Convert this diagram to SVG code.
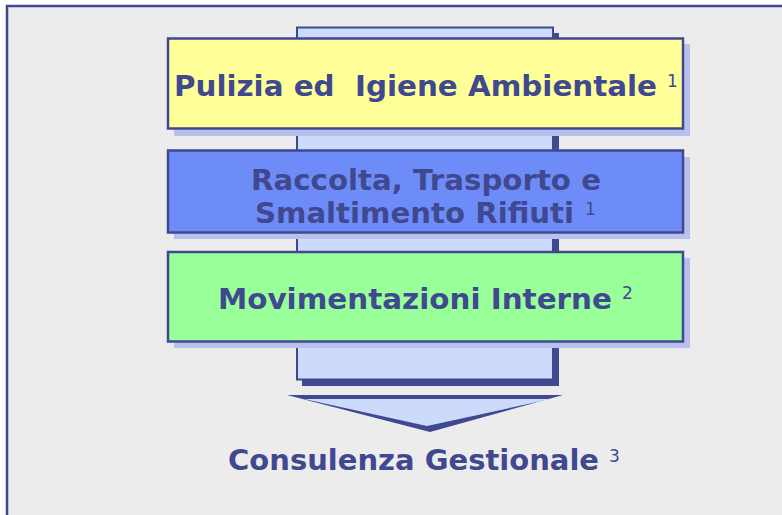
<svg xmlns="http://www.w3.org/2000/svg" width="782" height="515" viewBox="0 0 782 515">
<style>
.t{font-family:"DejaVu Sans",Verdana,sans-serif;font-weight:bold;font-size:29px;fill:#404890;white-space:pre}
.s{font-family:"DejaVu Sans",Verdana,sans-serif;font-size:17px;fill:#404890}
.box{stroke:#404890;stroke-width:2.5}
.sh{fill:#B8C0EE}
</style>
<rect x="0" y="0" width="782" height="515" fill="#FFFFFF"/>
<rect id="frame" x="7" y="6" width="800" height="530" fill="#ECECEC" stroke="#404890" stroke-width="2.5"/>
<g id="connectors">
<rect x="302" y="33" width="257" height="353" fill="#404890"/>
<rect x="297" y="27.5" width="256" height="352" fill="#CCDAFB" stroke="#404890" stroke-width="2"/>
<polygon points="287,395 563,395 430,432" fill="#404890"/>
<polygon points="304,399 551,399 427,426" fill="#CCDAFB"/>
</g>
<g id="node1">
<rect class="sh" x="174" y="44" width="516" height="92"/>
<rect class="box" x="168" y="38.5" width="515" height="90" fill="#FFFF99"/>
<text class="t" x="174" y="96" xml:space="preserve" textLength="483" lengthAdjust="spacingAndGlyphs">Pulizia ed  Igiene Ambientale</text>
<text class="s" x="667" y="87">1</text>
</g>
<g id="node2">
<rect class="sh" x="174" y="157" width="516" height="82"/>
<rect class="box" x="168" y="150.5" width="515" height="82" fill="#6E8CF7"/>
<text class="t" x="251" y="189.5" textLength="350" lengthAdjust="spacingAndGlyphs">Raccolta, Trasporto e</text>
<text class="t" x="255" y="223" textLength="319" lengthAdjust="spacingAndGlyphs">Smaltimento Rifiuti</text>
<text class="s" x="585" y="215">1</text>
</g>
<g id="node3">
<rect class="sh" x="174" y="258" width="516" height="90"/>
<rect class="box" x="168" y="252" width="515" height="89.5" fill="#99FF99"/>
<text class="t" x="218" y="308.5" textLength="394" lengthAdjust="spacingAndGlyphs">Movimentazioni Interne</text>
<text class="s" x="622" y="299">2</text>
</g>
<g id="node4">
<text class="t" x="228" y="470" textLength="371" lengthAdjust="spacingAndGlyphs">Consulenza Gestionale</text>
<text class="s" x="609" y="462">3</text>
</g>
</svg>
